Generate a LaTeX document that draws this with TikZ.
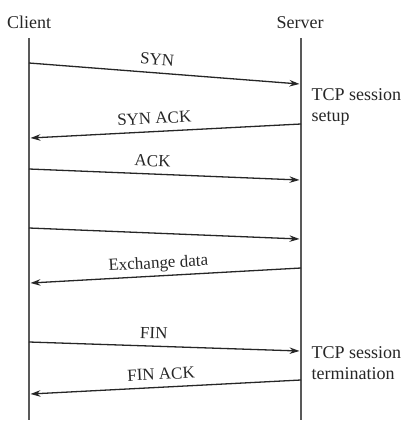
\documentclass[tikz,border=0pt]{standalone}
\usepackage{fontspec}
\setmainfont{Liberation Serif}
\usetikzlibrary{arrows.meta}
\begin{document}
\begin{tikzpicture}[x=1pt,y=-1pt,
  lifeline/.style={draw=black!65,line width=1.1pt},
  msg/.style={draw=black!85,line width=1.3pt,-{Stealth[length=10pt,width=6.5pt]}},
  msglabel/.style={sloped,above=3.5pt,inner sep=0pt,text height=12pt,text depth=3.5pt,
    font=\fontsize{17}{20}\selectfont,text=black!85},
  head/.style={anchor=base,inner sep=0pt,font=\fontsize{18}{21}\selectfont,text=black!85},
  note/.style={anchor=north west,inner sep=0pt,align=left,font=\fontsize{18}{21.3}\selectfont,text=black!85}]
\useasboundingbox (0,0) rectangle (411,423);
% headings
\node[head] (client) at (29,28) {Client};
\node[head] (server) at (300,28) {Server};
% lifelines
\coordinate (cTop) at (29,38);
\coordinate (cBot) at (29,420);
\coordinate (sTop) at (301,38);
\coordinate (sBot) at (301,420);
\draw[lifeline] (cTop) -- (cBot);
\draw[lifeline] (sTop) -- (sBot);
% message endpoints
\coordinate (c1) at (29,63);   \coordinate (s1) at (299.5,84);
\coordinate (s2) at (301,124); \coordinate (c2) at (30.5,138);
\coordinate (c3) at (29,169);  \coordinate (s3) at (299.5,180);
\coordinate (c4) at (29,228);  \coordinate (s4) at (299.5,239);
\coordinate (s5) at (301,268); \coordinate (c5) at (30.5,283);
\coordinate (c6) at (29,342);  \coordinate (s6) at (299.5,351);
\coordinate (s7) at (301,380); \coordinate (c7) at (30.5,394);
% messages
\draw[msg] (c1) -- node[msglabel,pos=0.47] (l1) {SYN} (s1);
\draw[msg] (s2) -- node[msglabel,pos=0.54] (l2) {SYN ACK} (c2);
\draw[msg] (c3) -- node[msglabel,pos=0.455] (l3) {ACK} (s3);
\draw[msg] (c4) -- (s4);
\draw[msg] (s5) -- node[msglabel,pos=0.525] (l5) {Exchange data} (c5);
\draw[msg] (c6) -- node[msglabel,pos=0.46] (l6) {FIN} (s6);
\draw[msg] (s7) -- node[msglabel,pos=0.515] (l7) {FIN ACK} (c7);
% notes
\node[note] (setup) at (311.5,88.5) {TCP session\\setup};
\node[note] (term) at (311.5,346) {TCP session\\termination};
\end{tikzpicture}
\end{document}
